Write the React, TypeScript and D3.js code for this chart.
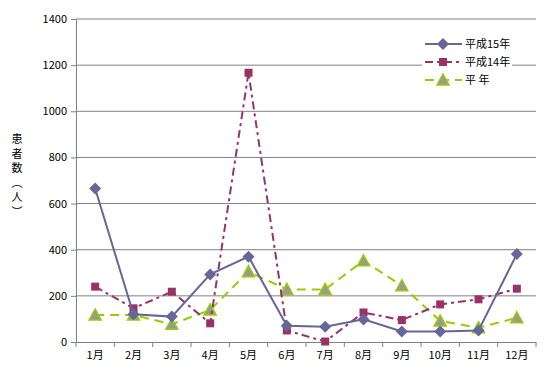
import { useEffect, useRef } from 'react'
import * as d3 from 'd3'

const months = ['1月', '2月', '3月', '4月', '5月', '6月', '7月', '8月', '9月', '10月', '11月', '12月']
const h15 = [665, 120, 110, 293, 370, 70, 66, 98, 46, 46, 50, 381]
const h14 = [240, 146, 218, 81, 1167, 50, 2, 128, 95, 163, 185, 231]
const heinen = [117, 117, 77, 139, 305, 228, 228, 352, 244, 91, 62, 105]
const yTicks = [0, 200, 400, 600, 800, 1000, 1200, 1400]
const yLabel = ['患', '者', '数', '（', '人', '）']

const FONT = '"Noto Sans CJK JP", "DejaVu Sans", sans-serif'

export default function App() {
  const ref = useRef<SVGSVGElement>(null)

  useEffect(() => {
    const width = 551
    const height = 385
    const margin = { top: 19, right: 15, bottom: 43, left: 76 }
    const svg = d3.select(ref.current)
    svg.selectAll('*').remove()
    svg.attr('width', width).attr('height', height)
    svg.append('rect').attr('width', width).attr('height', height).attr('fill', '#fff')

    const x = d3.scaleBand().domain(months).range([margin.left, width - margin.right])
    const y = d3.scaleLinear().domain([0, 1400]).range([height - margin.bottom, margin.top])

    // gridlines
    svg.append('g').selectAll('line').data(yTicks.slice(1)).enter().append('line')
      .attr('x1', margin.left).attr('x2', width - margin.right)
      .attr('y1', d => y(d)).attr('y2', d => y(d))
      .attr('stroke', '#808080').attr('stroke-width', 1)

    // y axis
    const ya = svg.append('g').attr('transform', `translate(${margin.left},0)`)
      .call(d3.axisLeft(y).tickValues(yTicks).tickFormat(d3.format('d')).tickSize(5).tickSizeOuter(0).tickPadding(4))
    ya.select('.domain').attr('stroke', '#808080')
    ya.selectAll('.tick line').attr('stroke', '#808080')
    ya.selectAll('text').style('font-family', FONT).style('font-size', '11px').attr('fill', '#000')

    // x axis
    const xa = svg.append('g').attr('transform', `translate(0,${y(0)})`)
      .call(d3.axisBottom(x).tickSize(0).tickPadding(9))
    xa.select('.domain').attr('stroke', '#808080')
    xa.selectAll('text').style('font-family', FONT).style('font-size', '11px').attr('fill', '#000')
    const bounds = months.map(m => x(m) as number).concat([width - margin.right])
    svg.append('g').selectAll('line').data(bounds).enter().append('line')
      .attr('x1', d => d).attr('x2', d => d)
      .attr('y1', y(0)).attr('y2', y(0) + 5)
      .attr('stroke', '#808080')

    // y label
    svg.append('g').selectAll('text').data(yLabel).enter().append('text')
      .attr('x', 17).attr('y', (d, i) => 139 + i * 14.5)
      .attr('text-anchor', 'middle')
      .attr('writing-mode', 'tb')
      .style('font-family', FONT).style('font-size', '11px')
      .text(d => d)

    const cx = (i: number) => (x(months[i]) as number) + x.bandwidth() / 2
    const line = d3.line<number>().x((d, i) => cx(i)).y(d => y(d))

    const series = [
      { name: '平成15年', data: h15, color: '#666699', dash: null, marker: 'diamond' },
      { name: '平成14年', data: h14, color: '#993366', dash: '8,4,3,4', marker: 'square' },
      { name: '平 年', data: heinen, color: '#99cc00', dash: '9,6', marker: 'triangle' },
    ]

    const drawMarker = (g: d3.Selection<any, any, any, any>, kind: string, color: string, px: number, py: number) => {
      if (kind === 'diamond') {
        g.append('path').attr('d', `M${px},${py - 6}L${px + 6},${py}L${px},${py + 6}L${px - 6},${py}Z`)
          .attr('fill', color)
      } else if (kind === 'square') {
        g.append('rect').attr('x', px - 4).attr('y', py - 4).attr('width', 8).attr('height', 8)
          .attr('fill', color)
      } else {
        g.append('path').attr('d', `M${px},${py - 6}L${px + 6},${py + 5}L${px - 6},${py + 5}Z`)
          .attr('fill', '#999999').attr('stroke', color).attr('stroke-width', 1.5)
      }
    }

    // draw in order: 平年, 平成14年, 平成15年 on top
    ;[series[2], series[1], series[0]].forEach(s => {
      svg.append('path').datum(s.data).attr('d', line)
        .attr('fill', 'none').attr('stroke', s.color).attr('stroke-width', 2)
        .attr('stroke-dasharray', s.dash)
      const mg = svg.append('g')
      s.data.forEach((v, i) => drawMarker(mg, s.marker, s.color, cx(i), y(v)))
    })

    // legend
    const lg = svg.append('g')
    lg.append('rect').attr('x', 422).attr('y', 34).attr('width', 90).attr('height', 56).attr('fill', '#fff')
    series.forEach((s, i) => {
      const ly = 44 + i * 18
      lg.append('line').attr('x1', 425).attr('x2', 462).attr('y1', ly).attr('y2', ly)
        .attr('stroke', s.color).attr('stroke-width', 2).attr('stroke-dasharray', s.dash)
      drawMarker(lg, s.marker, s.color, 443, ly)
      lg.append('text').attr('x', 465).attr('y', ly + 4)
        .style('font-family', FONT).style('font-size', '11px')
        .text(s.name)
    })
  }, [])

  return <svg ref={ref} style={{ display: 'block', position: 'absolute', left: 0, top: 0 }} />
}
